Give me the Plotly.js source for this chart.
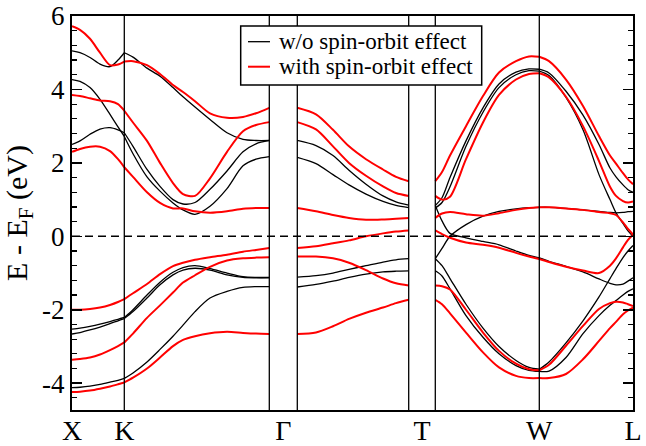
<!DOCTYPE html>
<html>
<head>
<meta charset="utf-8">
<script src="https://cdn.plot.ly/plotly-3.0.1.min.js"></script>
<style>html,body{margin:0;padding:0;background:#fff}#chart{width:646px;height:446px}</style>
</head>
<body>
<div id="chart"></div>
<script>
// ---- high-symmetry points (path coordinate) ----
const pointNames = ['X', 'K', 'Γ', 'T', 'W', 'L'];
const pointPos   = [0, 0.523, 2.113, 3.5, 4.673, 5.61];
const dividers   = [0.523, 1.973, 2.253, 3.367, 3.633, 4.673];

// ---- k samples per path segment ----
const kXK = [0, 0.08, 0.18, 0.28, 0.38, 0.46, 0.523];
const kKG = [0.523, 0.61, 0.75, 0.88, 1.01, 1.11, 1.23, 1.38, 1.55, 1.71, 1.84, 1.973];
const kGT = [2.253, 2.44, 2.61, 2.77, 2.94, 3.11, 3.24, 3.367];
const kTW = [3.633, 3.70, 3.78, 3.94, 4.11, 4.27, 4.44, 4.57, 4.673];
const kWL = [4.673, 4.77, 4.94, 5.11, 5.27, 5.38, 5.44, 5.51, 5.56, 5.61];

// ---- bands without spin-orbit (eV) ----
const noSO_XK = [
  [5.05, 5.0, 4.87, 4.69, 4.62, 4.8, 5.0],
  [4.27, 4.22, 4.05, 3.73, 3.32, 2.98, 2.72],
  [2.5, 2.6, 2.78, 2.92, 2.96, 2.9, 2.82],
  [-2.53, -2.5, -2.45, -2.39, -2.32, -2.26, -2.21],
  [-2.66, -2.62, -2.55, -2.47, -2.38, -2.3, -2.24],
  [-4.12, -4.11, -4.08, -4.03, -3.97, -3.92, -3.87]
];
const noSO_KG = [
  [5.0, 4.88, 4.58, 4.36, 4.05, 3.8, 3.52, 3.18, 2.82, 2.64, 2.61, 2.61],
  [2.82, 2.45, 1.82, 1.36, 1.0, 0.88, 0.92, 1.28, 1.78, 2.3, 2.52, 2.61],
  [2.72, 2.25, 1.62, 1.23, 0.91, 0.72, 0.6, 0.82, 1.3, 1.92, 2.1, 2.17],
  [-2.21, -2.0, -1.6, -1.25, -0.98, -0.85, -0.8, -0.88, -1.0, -1.1, -1.12, -1.12],
  [-2.24, -2.05, -1.68, -1.32, -1.05, -0.92, -0.87, -0.92, -1.05, -1.12, -1.13, -1.13],
  [-3.87, -3.72, -3.42, -3.08, -2.72, -2.42, -2.05, -1.68, -1.5, -1.39, -1.37, -1.37]
];
const noSO_GT = [
  [2.61, 2.47, 2.2, 1.8, 1.42, 1.1, 0.94, 0.85],
  [2.15, 1.98, 1.68, 1.4, 1.15, 0.95, 0.84, 0.78],
  [-1.11, -1.07, -1.0, -0.9, -0.8, -0.7, -0.64, -0.61],
  [-1.38, -1.31, -1.22, -1.12, -1.03, -0.97, -0.95, -0.94]
];
const noSO_TW = [
  [0.84, 1.05, 1.6, 2.6, 3.5, 4.15, 4.47, 4.56, 4.55],
  [0.77, 0.92, 1.35, 2.45, 3.38, 4.05, 4.4, 4.51, 4.5],
  [-0.61, -0.33, 0.0, 0.32, 0.55, 0.68, 0.75, 0.78, 0.79],
  [0.84, 0.42, 0.08, -0.04, -0.14, -0.23, -0.4, -0.52, -0.59],
  [-0.61, -0.8, -1.15, -1.85, -2.5, -3.0, -3.38, -3.57, -3.62],
  [-0.94, -1.08, -1.43, -2.16, -2.75, -3.2, -3.52, -3.65, -3.68]
];
const noSO_WL = [
  [4.55, 4.45, 3.95, 3.3, 2.5, 1.86, 1.62, 1.4, 1.27, 1.2],
  [4.5, 4.38, 3.78, 2.9, 1.68, 1.0, 0.64, 0.35, 0.15, 0.0],
  [0.79, 0.79, 0.76, 0.72, 0.68, 0.65, 0.64, 0.65, 0.67, 0.68],
  [-0.59, -0.68, -0.82, -0.97, -1.16, -1.28, -1.32, -1.3, -1.22, -1.13],
  [-3.62, -3.42, -2.9, -2.3, -1.65, -1.15, -0.88, -0.58, -0.4, -0.25],
  [-3.68, -3.67, -3.3, -2.65, -2.16, -1.88, -1.75, -1.6, -1.5, -1.43]
];

// ---- bands with spin-orbit (eV) ----
const SO_XK = [
  [5.72, 5.62, 5.38, 5.0, 4.66, 4.68, 4.76],
  [3.85, 3.82, 3.76, 3.7, 3.68, 3.6, 3.42],
  [2.3, 2.38, 2.44, 2.44, 2.32, 2.1, 1.88],
  [-2.0, -2.0, -1.98, -1.94, -1.87, -1.79, -1.71],
  [-3.36, -3.34, -3.3, -3.22, -3.1, -2.99, -2.89],
  [-4.24, -4.23, -4.2, -4.15, -4.09, -4.03, -3.98]
];
const SO_KG = [
  [4.76, 4.77, 4.66, 4.42, 4.12, 3.93, 3.68, 3.35, 3.23, 3.25, 3.35, 3.5],
  [3.42, 3.1, 2.6, 2.0, 1.45, 1.15, 1.1, 1.58, 2.3, 2.86, 3.03, 3.11],
  [1.88, 1.62, 1.2, 0.91, 0.76, 0.76, 0.68, 0.64, 0.68, 0.75, 0.77, 0.77],
  [-1.71, -1.55, -1.3, -1.03, -0.81, -0.72, -0.64, -0.57, -0.5, -0.42, -0.37, -0.32],
  [-2.89, -2.65, -2.22, -1.88, -1.53, -1.26, -1.06, -0.83, -0.66, -0.6, -0.58, -0.57],
  [-3.98, -3.85, -3.6, -3.3, -2.99, -2.82, -2.72, -2.64, -2.6, -2.63, -2.65, -2.66]
];
const SO_GT = [
  [3.5, 3.32, 2.9, 2.45, 2.1, 1.82, 1.62, 1.5],
  [3.11, 2.91, 2.45, 2.0, 1.65, 1.36, 1.18, 1.1],
  [0.77, 0.68, 0.58, 0.5, 0.45, 0.46, 0.48, 0.5],
  [-0.32, -0.27, -0.19, -0.11, 0.0, 0.08, 0.13, 0.16],
  [-0.55, -0.55, -0.6, -0.72, -0.92, -1.15, -1.28, -1.34],
  [-2.66, -2.62, -2.45, -2.25, -2.08, -1.94, -1.82, -1.73]
];
const SO_TW = [
  [1.5, 1.75, 2.2, 3.0, 3.82, 4.46, 4.77, 4.9, 4.89],
  [1.1, 1.0, 1.08, 2.1, 3.1, 3.85, 4.27, 4.42, 4.44],
  [0.5, 0.62, 0.66, 0.6, 0.56, 0.63, 0.72, 0.77, 0.79],
  [0.16, 0.06, -0.04, -0.17, -0.23, -0.31, -0.45, -0.55, -0.62],
  [-1.34, -1.36, -1.45, -2.0, -2.62, -3.12, -3.47, -3.62, -3.65],
  [-1.73, -1.85, -2.1, -2.62, -3.16, -3.57, -3.8, -3.86, -3.86]
];
const SO_WL = [
  [4.89, 4.77, 4.27, 3.55, 2.73, 2.2, 1.98, 1.72, 1.55, 1.42],
  [4.44, 4.33, 3.8, 3.0, 2.05, 1.35, 1.1, 0.96, 0.92, 0.95],
  [0.79, 0.79, 0.76, 0.72, 0.66, 0.63, 0.58, 0.38, 0.2, 0.05],
  [-0.62, -0.7, -0.83, -0.93, -1.0, -0.8, -0.6, -0.3, -0.1, 0.05],
  [-3.65, -3.5, -2.98, -2.44, -1.98, -1.82, -1.78, -1.8, -1.85, -1.9],
  [-3.86, -3.86, -3.75, -3.35, -2.85, -2.5, -2.33, -2.12, -2.02, -1.94]
];

const legendNames = ['w/o spin-orbit effect', 'with spin-orbit effect'];
const seriesColors = ['#000000', '#ff0000'];

// ---- assemble ----
function assemble(pairs) {
  const x = [], y = [];
  pairs.forEach(([k, bands]) => {
    bands.forEach(b => {
      b.forEach((v, i) => { x.push(k[i]); y.push(v); });
      x.push(null); y.push(null);
    });
  });
  return {x, y};
}
const black = assemble([[kXK, noSO_XK], [kKG, noSO_KG], [kGT, noSO_GT], [kTW, noSO_TW], [kWL, noSO_WL]]);
const red = assemble([[kXK, SO_XK], [kKG, SO_KG], [kGT, SO_GT], [kTW, SO_TW], [kWL, SO_WL]]);

const FONT = 'Liberation Serif, "Times New Roman", Times, serif';

const traces = [
  {x: black.x, y: black.y, mode: 'lines', name: legendNames[0], connectgaps: false, showlegend: false,
   line: {color: seriesColors[0], width: 1.3, shape: 'spline', smoothing: 0.8}, hoverinfo: 'skip'},
  {x: red.x, y: red.y, mode: 'lines', name: legendNames[1], connectgaps: false, showlegend: false,
   line: {color: seriesColors[1], width: 2, shape: 'spline', smoothing: 0.8}, hoverinfo: 'skip'}
];

const shapes = dividers.map(d => ({
  type: 'line', xref: 'x', yref: 'paper', x0: d, x1: d, y0: 0, y1: 1,
  line: {color: '#000', width: 1.3}
}));
shapes.push({type: 'line', xref: 'paper', yref: 'y', x0: 0, x1: 1, y0: 0, y1: 0,
  line: {color: '#000', width: 1.5, dash: '8px,5px'}});

// legend box (drawn as shapes + text, paper coordinates)
const legBox = {x0: 0.3007, x1: 0.7303, y0: 0.8249, y1: 0.9746};
const legRowsY = [0.9348, 0.8713];
shapes.push({type: 'rect', xref: 'paper', yref: 'paper', x0: legBox.x0, x1: legBox.x1,
  y0: legBox.y0, y1: legBox.y1, fillcolor: '#fff', line: {color: '#000', width: 1.5}});
const annotations = [];
legendNames.forEach((nm, i) => {
  shapes.push({type: 'line', xref: 'paper', yref: 'paper', x0: 0.3137, x1: 0.3529,
    y0: legRowsY[i], y1: legRowsY[i], line: {color: seriesColors[i], width: i ? 2 : 1.3}});
  annotations.push({xref: 'paper', yref: 'paper', x: 0.3649, y: legRowsY[i],
    xanchor: 'left', yanchor: 'middle', showarrow: false, text: nm,
    font: {family: FONT, size: 23, color: '#000'}});
});

const layout = {
  width: 646, height: 446,
  margin: {l: 72, r: 13, t: 16, b: 36},
  paper_bgcolor: '#fff', plot_bgcolor: '#fff',
  font: {family: FONT, color: '#000'},
  showlegend: false,
  xaxis: {range: [0, 5.61], tickmode: 'array', tickvals: pointPos, ticktext: pointNames,
    ticks: '', showgrid: false, zeroline: false, showline: true, mirror: true,
    linecolor: '#000', linewidth: 2, ticklabelstandoff: -6,
    tickfont: {family: FONT, size: 28, color: '#000'}},
  yaxis: {range: [-4.73, 6], tickmode: 'array', tickvals: [-4, -2, 0, 2, 4, 6],
    ticktext: ['-4', '-2', '0', '2', '4', '6'],
    ticks: 'inside', ticklen: 10, tickwidth: 1.5, tickcolor: '#000',
    minor: {tick0: 0, dtick: 0.4, ticks: 'inside', ticklen: 5, tickwidth: 1.2, tickcolor: '#000'},
    showgrid: false, zeroline: false, showline: true, mirror: 'ticks',
    linecolor: '#000', linewidth: 2, tickfont: {family: FONT, size: 27, color: '#000'},
    title: {text: 'E - E<sub>F</sub> (eV)', font: {family: FONT, size: 30, color: '#000'}, standoff: 8}},
  shapes: shapes,
  annotations: annotations
};

Plotly.newPlot('chart', traces, layout, {staticPlot: true, displayModeBar: false});
</script>
</body>
</html>
